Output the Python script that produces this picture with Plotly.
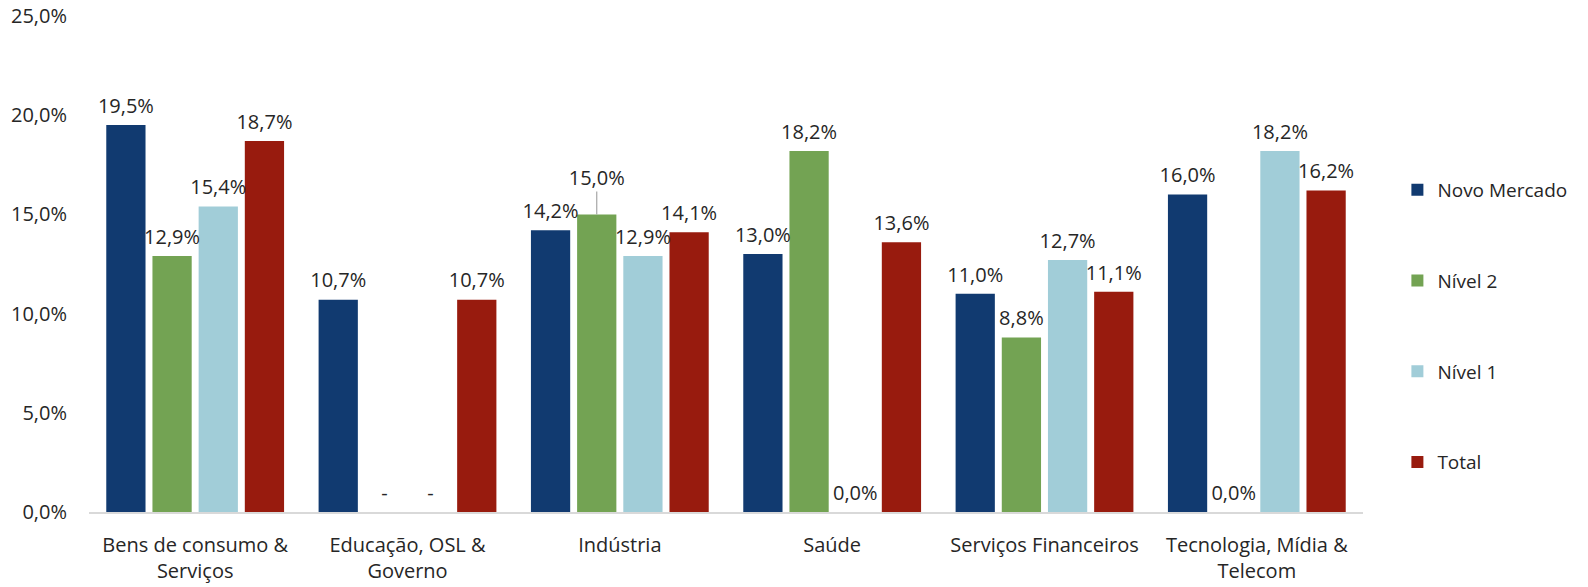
import plotly.graph_objects as go

categories = ["Bens de consumo &<br>Serviços", "Educação, OSL &<br>Governo", "Indústria",
              "Saúde", "Serviços Financeiros", "Tecnologia, Mídia &<br>Telecom"]
series_names = ["Novo Mercado", "Nível 2", "Nível 1", "Total"]
novo_mercado = [19.5, 10.7, 14.2, 13.0, 11.0, 16.0]
nivel_2 = [12.9, 0.0, 15.0, 18.2, 8.8, 0.0]
nivel_1 = [15.4, 0.0, 12.9, 0.0, 12.7, 18.2]
total = [18.7, 10.7, 14.1, 13.6, 11.1, 16.2]
labels_novo = ["19,5%", "10,7%", "14,2%", "13,0%", "11,0%", "16,0%"]
labels_n2 = ["12,9%", "-", "15,0%", "18,2%", "8,8%", "0,0%"]
labels_n1 = ["15,4%", "-", "12,9%", "0,0%", "12,7%", "18,2%"]
labels_total = ["18,7%", "10,7%", "14,1%", "13,6%", "11,1%", "16,2%"]
tick_vals = [0, 5, 10, 15, 20, 25]
tick_text = ["0,0%", "5,0%", "10,0%", "15,0%", "20,0%", "25,0%"]

values = [novo_mercado, nivel_2, nivel_1, total]
labels = [labels_novo, labels_n2, labels_n1, labels_total]
colors = ["#113a70", "#73a353", "#a1cdd8", "#981b0e"]

FONT = "Open Sans"
FS = 20
TXT = "#262626"

fig = go.Figure()
for i, (name, vals, col) in enumerate(zip(series_names, values, colors)):
    fig.add_trace(go.Bar(
        x=categories, y=vals, name=name, marker=dict(color=col, line=dict(width=0)),
        legendgroup=name, hoverinfo="skip", offsetgroup="g%d" % i,
    ))

# data labels as grouped scatter text traces
leader = [0, 0, 1.15, 0, 0, 0]
for i, (name, vals, labs) in enumerate(zip(series_names, values, labels)):
    sizes = [10] * len(vals)
    err = None
    if i == 1:
        sizes = [10, 10, 38, 10, 10, 10]
        err = dict(type="data", symmetric=False, array=leader, arrayminus=[0] * 6,
                   color="#a6a6a6", thickness=1.2, width=0, visible=True)
    fig.add_trace(go.Scatter(
        x=categories, y=vals, mode="text+markers", text=labs, textposition="top center",
        marker=dict(size=sizes, opacity=0), error_y=err,
        textfont=dict(family=FONT, size=FS, color=TXT),
        offsetgroup="g%d" % i, showlegend=False, hoverinfo="skip", cliponaxis=False,
    ))

fig.update_layout(
    barmode="group", bargap=0.13, bargroupgap=0.15,
    scattermode="group", scattergap=0.13,
    width=1588, height=587,
    margin=dict(l=89, r=225, t=16, b=75),
    paper_bgcolor="white", plot_bgcolor="white",
    font=dict(family=FONT, size=FS, color=TXT),
    legend=dict(x=1.027, xanchor="left", y=0.375, yanchor="middle",
                tracegroupgap=63, font=dict(family=FONT, size=19, color=TXT),
                itemwidth=30),
    showlegend=True,
)
fig.update_xaxes(showline=True, linecolor="#d9d9d9", linewidth=2, showgrid=False,
                 automargin=False,
                 ticks="", ticklabelstandoff=14, tickfont=dict(family=FONT, size=FS, color=TXT))
fig.update_yaxes(range=[0, 25], tickvals=tick_vals, ticktext=tick_text, showgrid=False,
                 automargin=False,
                 zeroline=False, showline=False, ticks="", ticklabelstandoff=21,
                 tickfont=dict(family=FONT, size=FS, color=TXT))

fig.write_html("out.html", config={"displayModeBar": False},
               post_script="document.body.style.margin='0';")
